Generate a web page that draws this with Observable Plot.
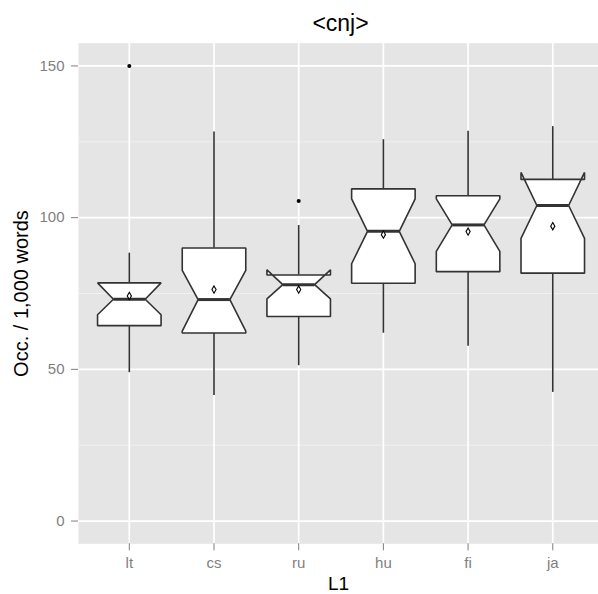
<!DOCTYPE html>
<html>
<head>
<meta charset="utf-8">
<script src="https://cdn.jsdelivr.net/npm/d3@7"></script>
<script src="https://cdn.jsdelivr.net/npm/@observablehq/plot@0.6"></script>
<style>
  html, body { margin: 0; padding: 0; background: #fff; }
</style>
</head>
<body>
<div id="chart"></div>
<script>
const title = "<cnj>";
const xTitle = "L1";
const yTitle = "Occ. / 1,000 words";
const categories = ["lt", "cs", "ru", "hu", "fi", "ja"];
const whiskerLow  = [48.9, 41.4, 51.2, 61.9, 57.6, 42.4];
const q1          = [64.4, 62.0, 67.4, 78.4, 82.2, 81.7];
const notchLow    = [68.0, 62.6, 73.2, 84.8, 88.9, 93.2];
const median      = [73.1, 73.0, 77.9, 95.5, 97.6, 104.0];
const notchHigh   = [78.5, 82.6, 82.8, 106.2, 106.2, 114.9];
const q3          = [78.5, 90.0, 81.1, 109.5, 107.2, 112.6];
const whiskerHigh = [88.3, 128.2, 97.4, 125.7, 128.5, 130.0];
const means       = [74.2, 76.3, 76.3, 94.4, 95.4, 97.2];
const outlierCat  = ["lt", "ru"];
const outlierVal  = [150, 105.5];
const yTicks = [0, 50, 100, 150];
const yMinor = [25, 75, 125];

const hw = 0.375;   // half box width (category units)
const nw = 0.1875;  // half notch width

const idx = categories.map((_, i) => i);
const polys = idx.flatMap(i => {
  const a = i - hw, b = i + hw, na = i - nw, nb = i + nw;
  return [
    [a, q3[i]], [a, notchHigh[i]], [na, median[i]], [a, notchLow[i]], [a, q1[i]],
    [b, q1[i]], [b, notchLow[i]], [nb, median[i]], [b, notchHigh[i]], [b, q3[i]]
  ].map(([x, y]) => ({g: i, x, y}));
});
const whiskers = idx.flatMap(i => [
  {x: i, y1: q3[i], y2: whiskerHigh[i]},
  {x: i, y1: whiskerLow[i], y2: q1[i]}
]);
const medians = idx.map(i => ({x1: i - nw, x2: i + nw, y: median[i]}));
const meanPts = idx.map(i => ({x: i, y: means[i]}));
const outPts = outlierCat.map((c, k) => ({x: categories.indexOf(c), y: outlierVal[k]}));

const grey20 = "#333333";
const grey50 = "#7f7f7f";

const chart = Plot.plot({
  width: 598,
  height: 594,
  marginLeft: 78,
  marginRight: 0,
  marginTop: 42.7,
  marginBottom: 50.7,
  style: {fontFamily: "'Liberation Sans', Arial, Helvetica, sans-serif", background: "#fff"},
  x: {type: "linear", domain: [-0.6, 5.54]},
  y: {domain: [-7.5, 157.5]},
  marks: [
    Plot.frame({fill: "#e5e5e5", stroke: "none"}),
    Plot.ruleY(yMinor, {stroke: "#f2f2f2", strokeWidth: 0.9}),
    Plot.ruleY(yTicks, {stroke: "#ffffff", strokeWidth: 1.7}),
    Plot.ruleX(idx, {stroke: "#ffffff", strokeWidth: 1.7}),
    Plot.ruleX(whiskers, {x: "x", y1: "y1", y2: "y2", stroke: grey20, strokeWidth: 1.6}),
    Plot.line(polys, {x: "x", y: "y", z: "g", curve: "linear-closed", fill: "white", stroke: grey20, strokeWidth: 1.6, strokeLinejoin: "miter"}),
    Plot.link(medians, {x1: "x1", x2: "x2", y1: "y", y2: "y", stroke: grey20, strokeWidth: 3}),
    Plot.dot(meanPts, {x: "x", y: "y", symbol: "diamond", r: 2.2, fill: "white", stroke: "black", strokeWidth: 1.1}),
    Plot.dot(outPts, {x: "x", y: "y", r: 2, fill: "black", stroke: "none"}),
    Plot.axisY({ticks: yTicks, tickSize: 7, tickPadding: 7, fontSize: 15, color: grey50, label: null}),
    Plot.axisX({ticks: idx, tickFormat: i => categories[i], tickSize: 7, tickPadding: 7, fontSize: 15, color: grey50, label: null}),
    Plot.text([yTitle], {frameAnchor: "left", dx: -57, rotate: -90, textAnchor: "middle", lineAnchor: "middle", fontSize: 20, fill: "black"}),
    Plot.text([xTitle], {frameAnchor: "bottom", dy: 46, textAnchor: "middle", lineAnchor: "bottom", fontSize: 19, fill: "black"}),
    Plot.text([title], {frameAnchor: "top", dx: 2, dy: -12, textAnchor: "middle", lineAnchor: "bottom", fontSize: 23, fill: "black"})
  ]
});
document.getElementById("chart").appendChild(chart);
</script>
</body>
</html>
